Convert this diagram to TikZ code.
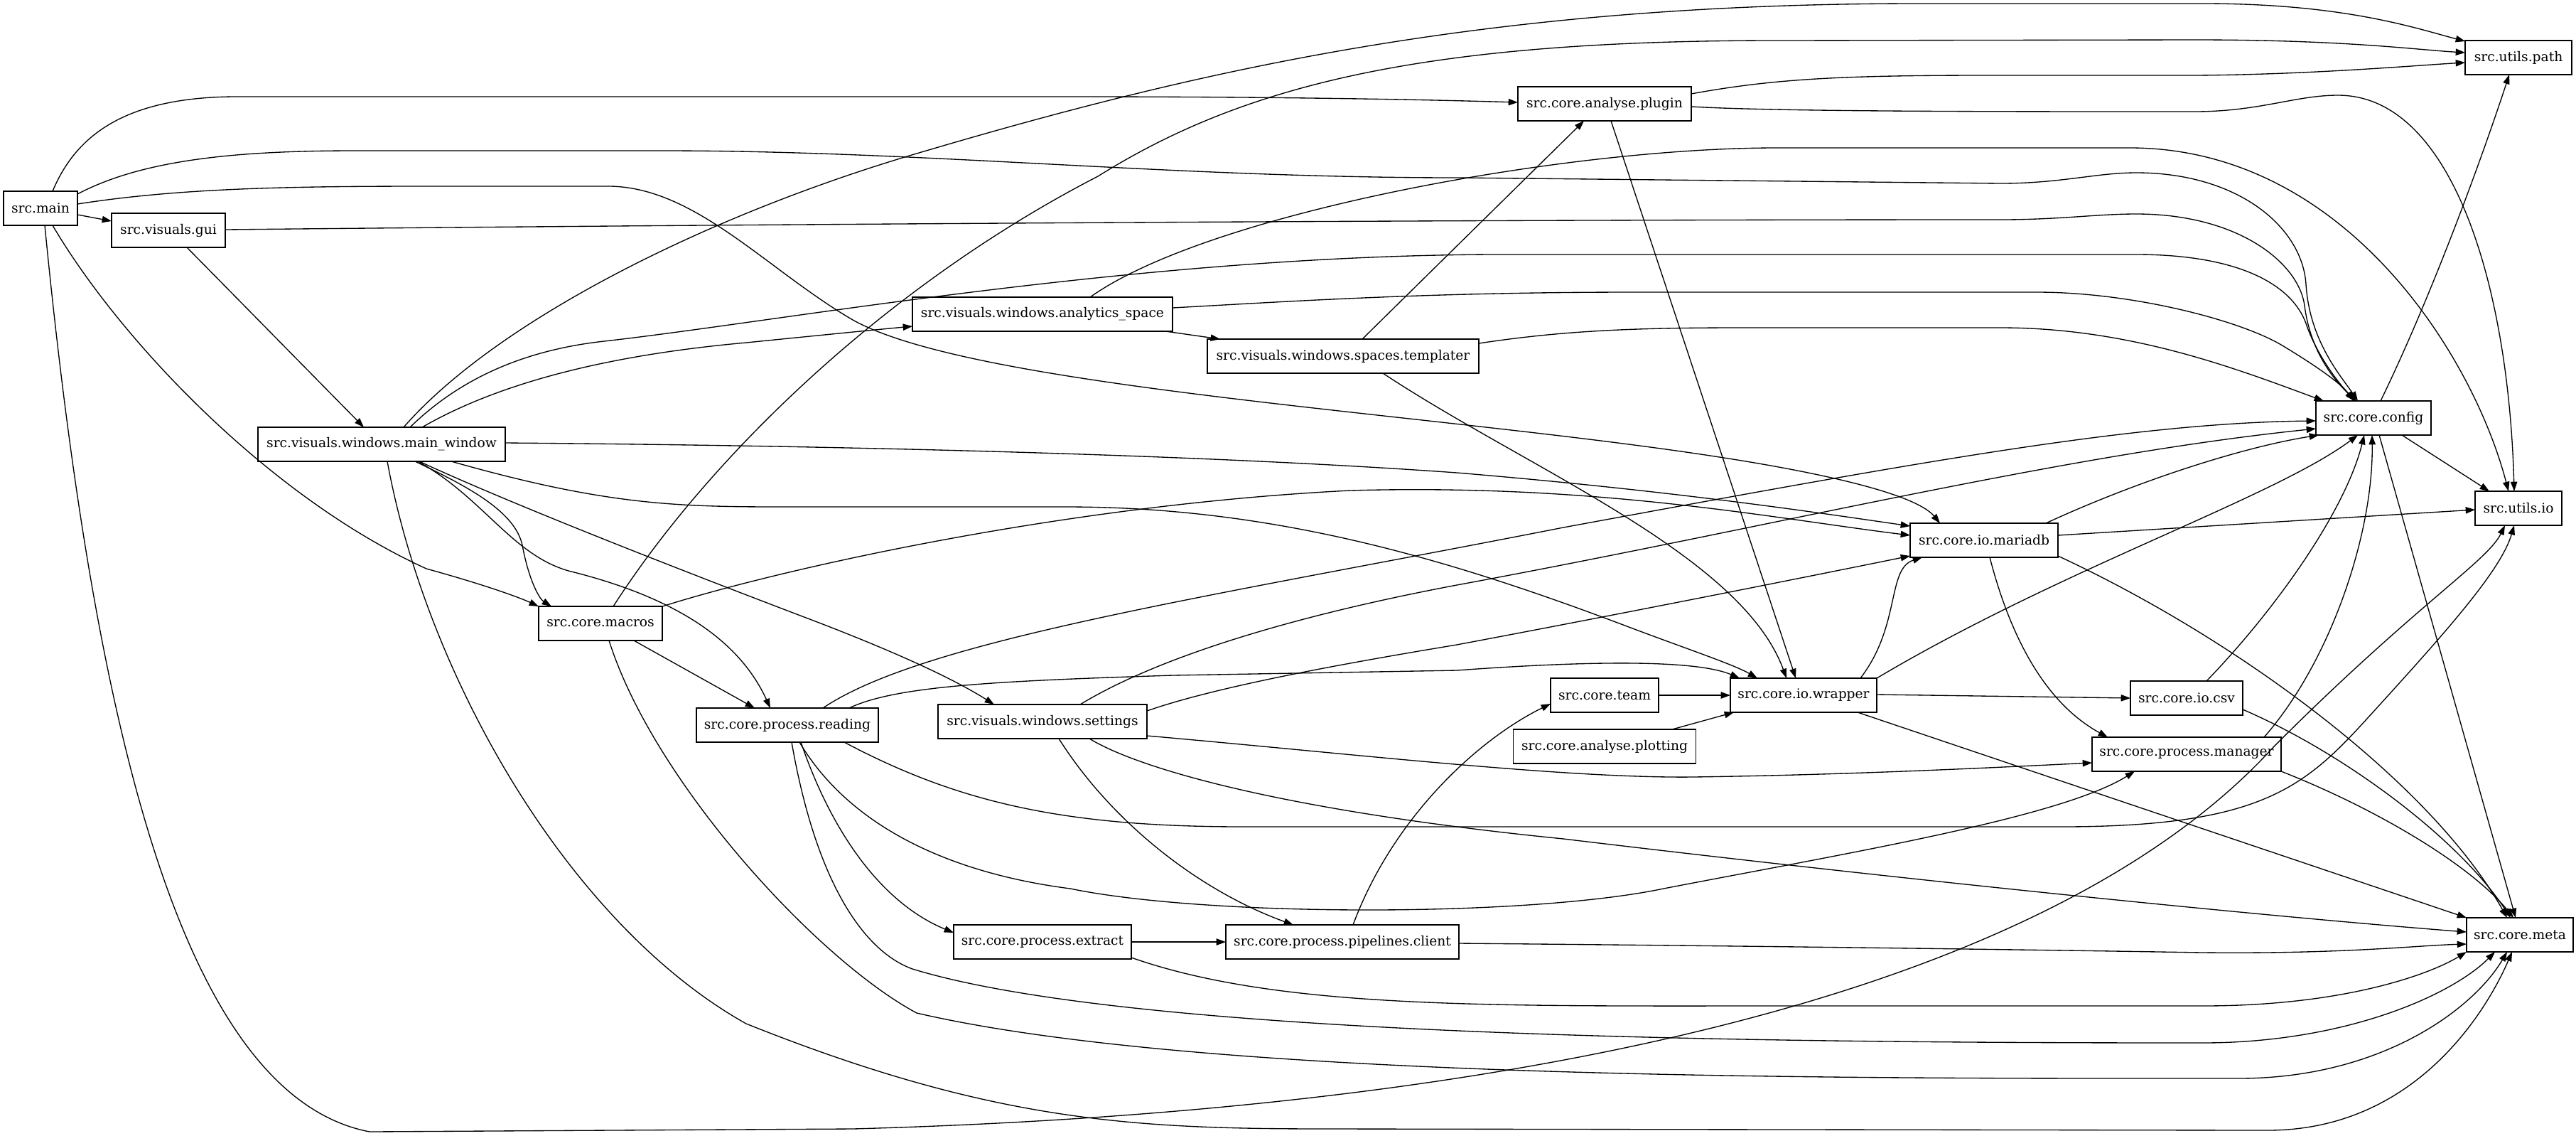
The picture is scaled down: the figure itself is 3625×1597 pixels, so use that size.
\documentclass[tikz,border=0pt]{standalone}
\usepackage{fontspec}
\setmainfont{DejaVu Serif}
\usetikzlibrary{arrows.meta,calc}
\begin{document}
\begin{tikzpicture}[x=0.75pt,y=-0.75pt,
  box/.style={draw, line width=1pt, rectangle, minimum height=36pt, inner sep=0pt, font=\fontsize{14pt}{16pt}\selectfont},
  e/.style={line width=1pt, -{Triangle[length=10pt,width=7pt]}}]
\fill[white] (0,0) rectangle (3625,1597);
\useasboundingbox (0,0) rectangle (3625,1597);
% nodes
\node[box, minimum width=78pt]    (main)      at (57,293)   {src.main};
\node[box, minimum width=120pt]   (gui)       at (237,324)  {src.visuals.gui};
\node[box, minimum width=261pt]   (mainwin)   at (537,625)  {src.visuals.windows.main\_window};
\node[box, minimum width=130.5pt] (macros)    at (845,877)  {src.core.macros};
\node[box, minimum width=192pt]   (reading)   at (1108,1020){src.core.process.reading};
\node[box, minimum width=220.5pt] (settings)  at (1467,1015){src.visuals.windows.settings};
\node[box, minimum width=274.5pt] (analytics) at (1467,442) {src.visuals.windows.analytics\_space};
\node[box, minimum width=286.5pt] (templater) at (1890,501) {src.visuals.windows.spaces.templater};
\node[box, minimum width=187.5pt] (extract)   at (1467,1325){src.core.process.extract};
\node[box, minimum width=246pt]   (pipelines) at (1889,1325){src.core.process.pipelines.client};
\node[box, minimum width=183pt]   (plugin)    at (2258,146) {src.core.analyse.plugin};
\node[box, minimum width=114pt]   (team)      at (2258,978) {src.core.team};
\node[box, minimum width=192.75pt](plotting)  at (2258,1050){src.core.analyse.plotting};
\node[box, minimum width=154.5pt] (wrapper)   at (2538,978) {src.core.io.wrapper};
\node[box, minimum width=156pt]   (mariadb)   at (2792,760) {src.core.io.mariadb};
\node[box, minimum width=118.5pt] (csv)       at (3077,982) {src.core.io.csv};
\node[box, minimum width=199.5pt] (manager)   at (3077,1061){src.core.process.manager};
\node[box, minimum width=121.5pt] (config)    at (3340,588) {src.core.config};
\node[box, minimum width=112.5pt] (path)      at (3544,81)  {src.utils.path};
\node[box, minimum width=91.5pt]  (io)        at (3544,715) {src.utils.io};
\node[box, minimum width=112.5pt] (meta)      at (3546,1315){src.core.meta};
% edges from src.main
\draw[e] ($(main)+(52,9)$) -- ($(gui)+(-80,-13)$);
\draw[e] ($(main)+(17,-24)$) .. controls (105,195) and (170,137) .. (330,136) -- (1500,136) .. controls (1800,136) and (2000,140) .. ($(plugin)+(-122,-2)$);
\draw[e] ($(main)+(52,-20)$) .. controls (200,225) and (330,212) .. (500,212) -- (932,212) .. controls (1300,212) and (1650,250) .. (2050,250) -- (2815,258) .. controls (2900,258) and (2950,243) .. (3006,243) .. controls (3150,243) and (3240,320) .. (3245,400) .. controls (3250,480) and (3295,530) .. ($(config)+(-22,-24)$);
\draw[e] ($(main)+(52,-6)$) .. controls (250,265) and (400,262) .. (600,262) -- (860,262) .. controls (980,265) and (1080,380) .. (1200,450) .. controls (1370,545) and (2000,580) .. (2400,640) .. controls (2600,670) and (2700,700) .. ($(mariadb)+(-62,-24)$);
\draw[e] ($(main)+(17,24)$) .. controls (170,480) and (380,700) .. (600,800) .. controls (680,822) and (730,840) .. ($(macros)+(-87,-24)$);
\draw[e] ($(main)+(6,24)$) .. controls (130,1000) and (250,1540) .. (520,1592) -- (1200,1588) .. controls (2200,1560) and (2900,1380) .. (3200,1050) .. controls (3400,850) and (3500,790) .. ($(io)+(-19,24)$);
% gui
\draw[e] ($(gui)+(26,24)$) -- ($(mainwin)+(-25,-24)$);
\draw[e] ($(gui)+(80,-1)$) .. controls (1000,316) and (2000,309) .. (2815,309) .. controls (2900,309) and (2950,301) .. (3006,301) .. controls (3150,301) and (3235,370) .. (3243,430) .. controls (3252,500) and (3290,540) .. ($(config)+(-24,-24)$);
% main window
\draw[e] ($(mainwin)+(31,-24)$) .. controls (700,450) and (1000,300) .. (1300,213) .. controls (1700,95) and (2100,5) .. (2700,5) -- (3100,5) .. controls (3300,5) and (3400,40) .. ($(path)+(-75,-23)$);
\draw[e] ($(mainwin)+(40,-24)$) .. controls (660,520) and (760,490) .. (850,480) .. controls (1100,452) and (1600,360) .. (2100,358) -- (3006,358) .. controls (3150,358) and (3225,400) .. (3245,455) .. controls (3260,500) and (3292,540) .. ($(config)+(-26,-24)$);
\draw[e] ($(mainwin)+(57,-24)$) .. controls (700,540) and (850,500) .. (1050,482) .. controls (1150,472) and (1230,464) .. ($(analytics)+(-183,17)$);
\draw[e] ($(mainwin)+(174,-2)$) .. controls (1200,627) and (1700,640) .. (2050,665) .. controls (2350,690) and (2550,720) .. ($(mariadb)+(-104,-20)$);
\draw[e] ($(mainwin)+(47,24)$) .. controls (660,685) and (725,720) .. (735,767) .. controls (745,820) and (760,843) .. ($(macros)+(-69,-24)$);
\draw[e] ($(mainwin)+(51,24)$) .. controls (680,700) and (720,780) .. (800,803) .. controls (950,840) and (1040,900) .. ($(reading)+(-24,-24)$);
\draw[e] ($(mainwin)+(53,24)$) .. controls (700,700) and (900,780) .. (1150,875) .. controls (1280,925) and (1350,960) .. ($(settings)+(-68,-24)$);
\draw[e] ($(mainwin)+(98,24)$) .. controls (850,710) and (950,713) .. (1100,713) -- (1500,713) .. controls (1800,713) and (2050,790) .. (2300,885) .. controls (2380,915) and (2440,935) .. ($(wrapper)+(-65,-24)$);
\draw[e] ($(mainwin)+(8,24)$) .. controls (600,950) and (800,1300) .. (1050,1440) .. controls (1400,1580) and (1600,1588) .. (1874,1588) -- (3191,1590) .. controls (3400,1590) and (3500,1420) .. ($(meta)+(-11,24)$);
% macros
\draw[e] ($(macros)+(18,-24)$) .. controls (1000,640) and (1250,400) .. (1545,248) .. controls (1750,120) and (2000,57) .. (2500,57) -- (3088,56) .. controls (3300,56) and (3400,70) .. ($(path)+(-75,-7)$);
\draw[e] ($(macros)+(87,-24)$) .. controls (1100,800) and (1500,710) .. (1900,690) .. controls (2250,680) and (2500,730) .. ($(mariadb)+(-104,-7)$);
\draw[e] ($(macros)+(47,24)$) -- ($(reading)+(-46,-24)$);
\draw[e] ($(macros)+(12,24)$) .. controls (920,1100) and (1150,1350) .. (1290,1425) .. controls (1700,1520) and (2600,1517) .. (3150,1517) .. controls (3350,1517) and (3480,1420) .. ($(meta)+(-18,24)$);
% reading
\draw[e] ($(reading)+(87,-24)$) .. controls (1260,965) and (1400,958) .. (1650,950) -- (2050,943) .. controls (2200,932) and (2380,925) .. ($(wrapper)+(-90,-24)$);
\draw[e] ($(reading)+(50,-24)$) .. controls (1300,900) and (1700,840) .. (2200,742) .. controls (2700,650) and (3000,595) .. ($(config)+(-81,4)$);
\draw[e] ($(reading)+(19,24)$) .. controls (1170,1170) and (1240,1270) .. ($(extract)+(-125,-13)$);
\draw[e] ($(reading)+(17,24)$) .. controls (1200,1170) and (1350,1230) .. (1506,1250) .. controls (1700,1290) and (2150,1290) .. (2341,1250) .. controls (2600,1200) and (2900,1150) .. ($(manager)+(-73,24)$);
\draw[e] ($(reading)+(80,24)$) .. controls (1350,1130) and (1500,1163) .. (1750,1163) -- (2900,1163) .. controls (3200,1163) and (3250,1100) .. (3350,990) .. controls (3450,880) and (3520,800) .. ($(io)+(-6,24)$);
\draw[e] ($(reading)+(6,24)$) .. controls (1150,1250) and (1220,1340) .. (1284,1363) .. controls (1600,1460) and (2500,1467) .. (3099,1467) .. controls (3300,1467) and (3450,1400) .. ($(meta)+(-35,24)$);
% settings
\draw[e] ($(settings)+(53,-24)$) .. controls (1620,930) and (1800,870) .. (2050,823) .. controls (2500,740) and (2900,640) .. ($(config)+(-81,15)$);
\draw[e] ($(settings)+(147,-15)$) .. controls (1700,970) and (1850,940) .. (2050,907) .. controls (2300,860) and (2550,810) .. ($(mariadb)+(-104,22)$);
\draw[e] ($(settings)+(147,20)$) .. controls (1900,1060) and (2200,1095) .. (2382,1093) .. controls (2600,1090) and (2800,1080) .. ($(manager)+(-133,12)$);
\draw[e] ($(settings)+(66,24)$) .. controls (1600,1080) and (1800,1140) .. (2200,1180) .. controls (2700,1240) and (3200,1290) .. ($(meta)+(-75,-4)$);
\draw[e] ($(settings)+(23,24)$) .. controls (1560,1150) and (1680,1250) .. ($(pipelines)+(-69,-24)$);
% analytics
\draw[e] ($(analytics)+(67,-24)$) .. controls (1700,300) and (2200,208) .. (2500,208) -- (3000,208) .. controls (3300,210) and (3480,500) .. ($(io)+(-14,-24)$);
\draw[e] ($(analytics)+(183,-9)$) .. controls (1800,425) and (2000,411) .. (2300,411) -- (2866,411) .. controls (3000,411) and (3150,450) .. (3210,485) .. controls (3260,515) and (3295,540) .. ($(config)+(-28,-24)$);
\draw[e] ($(analytics)+(173,24)$) -- ($(templater)+(-173,-24)$);
% templater
\draw[e] ($(templater)+(27,-24)$) -- ($(plugin)+(-29,24)$);
\draw[e] ($(templater)+(191,-18)$) .. controls (2200,465) and (2300,461) .. (2450,461) -- (2815,461) .. controls (3000,461) and (3150,520) .. ($(config)+(-70,-24)$);
\draw[e] ($(templater)+(56,24)$) .. controls (2150,660) and (2450,780) .. ($(wrapper)+(-24,-24)$);
% plugin
\draw[e] ($(plugin)+(122,-14)$) .. controls (2500,110) and (2600,106) .. (2800,106) -- (3088,106) .. controls (3250,105) and (3400,92) .. ($(path)+(-75,7)$);
\draw[e] ($(plugin)+(122,4)$) .. controls (2500,157) and (2800,157) .. (3088,157) .. controls (3180,157) and (3230,134) .. (3290,134) .. controls (3450,134) and (3530,400) .. ($(io)+(-6,-24)$);
\draw[e] ($(plugin)+(9,24)$) -- ($(wrapper)+(-11,-24)$);
% extract, pipelines, team, plotting
\draw[e] ($(extract)+(125,0)$) -- ($(pipelines)+(-164,0)$);
\draw[e] ($(extract)+(125,22)$) .. controls (1800,1420) and (2100,1415) .. (2500,1415) -- (3099,1415) .. controls (3300,1415) and (3420,1370) .. ($(meta)+(-75,24)$);
\draw[e] ($(pipelines)+(15,-24)$) .. controls (1960,1150) and (2080,1040) .. ($(team)+(-76,12)$);
\draw[e] ($(pipelines)+(164,2)$) .. controls (2400,1330) and (2800,1335) .. (3100,1340) .. controls (3300,1342) and (3400,1330) .. ($(meta)+(-75,13)$);
\draw[e] ($(team)+(76,0)$) -- ($(wrapper)+(-103,0)$);
\draw[e] ($(plotting)+(95,-24)$) -- ($(wrapper)+(-98,24)$);
% wrapper
\draw[e] ($(wrapper)+(80,-24)$) .. controls (2675,880) and (2655,800) .. ($(mariadb)+(-87,24)$);
\draw[e] ($(wrapper)+(103,-24)$) .. controls (2900,800) and (3200,700) .. ($(config)+(-22,24)$);
\draw[e] ($(wrapper)+(103,-1)$) -- ($(csv)+(-79,0)$);
\draw[e] ($(wrapper)+(76,24)$) -- ($(meta)+(-75,-24)$);
% mariadb
\draw[e] ($(mariadb)+(87,-24)$) .. controls (3000,680) and (3150,630) .. ($(config)+(-77,24)$);
\draw[e] ($(mariadb)+(104,-7)$) -- ($(io)+(-61,2)$);
\draw[e] ($(mariadb)+(104,22)$) .. controls (3150,900) and (3420,1100) .. ($(meta)+(-18,-24)$);
\draw[e] ($(mariadb)+(8,24)$) .. controls (2830,900) and (2880,990) .. ($(manager)+(-111,-24)$);
% csv, manager
\draw[e] ($(csv)+(28,-24)$) .. controls (3200,860) and (3300,720) .. ($(config)+(-13,24)$);
\draw[e] ($(csv)+(79,16)$) .. controls (3300,1060) and (3460,1180) .. ($(meta)+(-13,-24)$);
\draw[e] ($(manager)+(109,-24)$) .. controls (3280,930) and (3340,750) .. ($(config)+(-2,24)$);
\draw[e] ($(manager)+(133,24)$) .. controls (3350,1140) and (3480,1220) .. ($(meta)+(-9,-24)$);
% config
\draw[e] ($(config)+(10,-24)$) .. controls (3420,420) and (3490,230) .. ($(path)+(-13,24)$);
\draw[e] ($(config)+(40,24)$) -- ($(io)+(-41,-24)$);
\draw[e] ($(config)+(8,24)$) -- ($(meta)+(-6,-24)$);
\end{tikzpicture}
\end{document}
